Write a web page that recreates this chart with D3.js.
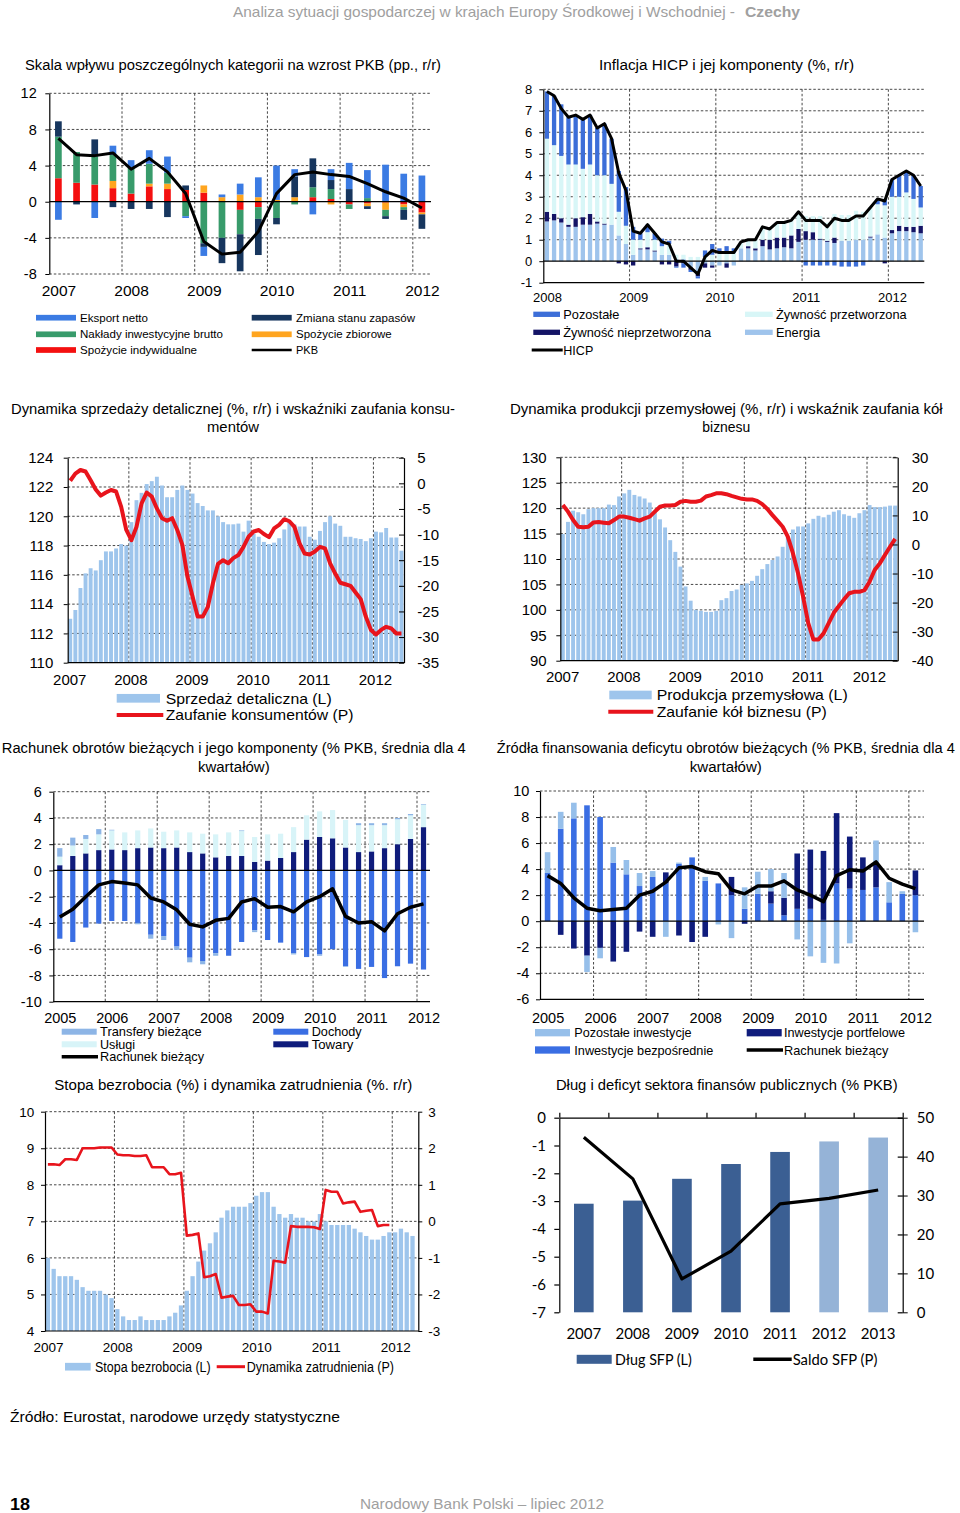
<!DOCTYPE html>
<html><head><meta charset="utf-8">
<script src="https://cdn.jsdelivr.net/npm/d3@7"></script>
<style>body{margin:0;background:#fff;}svg{display:block;}</style>
</head><body>
<script>
// ================= DATA =================
// Panel 1: GDP growth contributions (quarterly 2007Q1-2012Q1)
const gdpYears = ["2007","2008","2009","2010","2011","2012"];
const gdpIndiv   = [2.6,2.1,1.9,1.5,0.9,1.7,1.4,1.3,1.0,0,-0.9,-0.6,0,0,0.5,0.3,-0.3,-0.2,-0.1,-0.3,-1.2];
const gdpZbior   = [0,0,0,0.8,0,0.3,0.6,0,0.8,0.5,0.8,0.5,0.2,0.5,0,-0.3,0,-0.3,-0.8,-0.3,-0.2];
const gdpInwest  = [4.6,3.4,3.1,2.9,2.9,2.2,1.2,-1.6,-4.6,-4.0,-2.7,-1.3,-1.8,-0.3,1.1,1.1,-0.5,0.4,-0.7,-0.3,0];
const gdpZapasy  = [1.7,-0.3,1.9,-0.6,-0.8,-0.8,-1.7,0.5,-0.4,-2.8,-4.1,-4.0,-0.7,2.3,3.2,1.0,1.4,-0.3,-0.3,-1.1,-1.6];
const gdpEksport = [-2.0,0,-1.8,1.0,0.8,1.5,1.8,-0.2,-1.0,0.3,1.2,2.2,3.8,0.8,-1.4,1.2,2.9,3.1,4.1,3.1,2.9];
const gdpPKB     = [7.0,5.2,5.1,5.4,3.6,4.8,3.3,0.9,-4.4,-5.8,-5.6,-3.3,0.9,3.0,3.3,3.0,2.8,2.0,1.1,0.4,-0.7];
const gdpNames   = ["Eksport netto","Nakłady inwestycyjne brutto","Spożycie indywidualne","Zmiana stanu zapasów","Spożycie zbiorowe","PKB"];

// Panel 2: HICP and components (monthly 2008-01 .. 2012-05)
const hicpYears = ["2008","2009","2010","2011","2012"];
const hicpEnergia = [1.85,1.9,1.8,1.6,1.6,1.7,1.7,1.75,1.7,1.7,1.2,0.8,
  0.3,0.55,0.55,0.45,0.3,0.3,0.1,0.1,-0.3,-0.5,-0.1,-0.2,
  -0.2,-0.1,-0.2,0.6,0.6,0.5,0.7,0.55,0.6,0.65,0.6,0.9,
  1.0,1.0,1.0,0.9,0.85,0.95,0.95,1.0,1.0,1.1,1.25,1.1,
  1.3,1.4,1.4,1.35,1.3];
const hicpNieprz = [0.45,0.3,0.2,0.1,0.4,0.35,0.5,0.1,0.05,0,-0.1,-0.15,
  -0.2,0.05,0.1,0.05,-0.15,-0.15,-0.25,-0.1,-0.1,-0.2,-0.2,-0.1,
  0,-0.2,0,0,0.1,0.1,0.3,0.45,0.5,0.45,0.6,0.6,
  0.4,0.35,0.05,0.05,0.25,0,0,0,0,0.05,0,-0.1,
  0.15,0.25,0.2,0.25,0.35];
const hicpPrzetw = [3.4,3.2,2.9,2.8,2.5,2.25,2.3,2.15,2.25,1.9,1.1,0.85,
  0.7,0.4,0.7,0.5,0.4,0.5,0.2,0.2,0.2,0.2,0.2,0.3,
  0.35,0.4,0.4,0.3,0.3,0.4,0.6,0.5,0.7,0.7,0.7,0.8,
  0.7,0.75,1.05,0.85,1.1,1.2,1.2,1.35,1.3,1.35,1.4,1.5,
  1.55,1.35,1.6,1.3,0.85];
const hicpPozost = [2.2,2.3,2.4,2.2,2.3,2.3,2.3,2.2,2.4,2.1,1.9,1.8,
  0.6,0.3,0.35,0.3,0.35,0.15,-0.05,-0.2,-0.1,-0.1,0.3,0.5,
  0.25,0.3,0.2,0,0,0,0,0,0,0,0,0,
  -0.2,-0.2,-0.2,-0.2,-0.2,-0.25,-0.25,-0.25,-0.2,0,0.25,0.3,
  0.8,1.0,1.0,1.1,1.0];
const hicpTotal = [7.9,7.7,7.1,6.7,6.8,6.6,6.8,6.2,6.4,5.7,4.1,3.3,
  1.4,1.3,1.7,1.3,0.9,0.8,0.0,0.0,-0.3,-0.6,0.2,0.5,
  0.4,0.4,0.4,0.9,1.0,1.0,1.6,1.5,1.8,1.8,1.9,2.3,
  1.9,1.9,1.9,1.6,2.0,1.9,1.9,2.1,2.1,2.5,2.9,2.8,
  3.8,4.0,4.2,4.0,3.5];
const hicpNames = ["Pozostałe","Żywność przetworzona","Żywność nieprzetworzona","Energia","HICP"];

// Panel 3: retail sales (L) and consumer confidence (P), monthly 2007-01 .. 2012-06
const mYears = ["2007","2008","2009","2010","2011","2012"];
const retail = [113.0,113.6,115.1,116.1,116.45,116.3,117.0,117.6,117.6,117.8,118.1,118.0,
  119.6,121.1,121.6,122.2,122.4,122.7,122.1,121.3,121.3,121.8,122.1,121.8,
  121.55,120.9,120.7,120.4,120.4,120.0,119.6,119.45,119.45,119.5,118.95,119.7,
  118.8,118.6,118.25,118.1,118.2,118.5,119.1,119.6,119.45,119.3,119.3,118.6,
  118.4,119.0,119.6,120.0,119.5,119.35,118.6,118.6,118.5,118.45,118.3,118.5,
  118.95,118.9,119.2,118.55,118.55,117.65];
const consConf = [0.5,1.9,2.6,2.3,0.6,-1.2,-2.4,-1.8,-1.3,-1.6,-4.6,-9.1,
  -11.1,-8.5,-3.9,-1.8,-2.6,-4.9,-6.8,-7.3,-6.8,-9.1,-12.0,-18.2,
  -22.1,-26.0,-26.0,-24.1,-19.5,-15.7,-15.0,-15.6,-14.6,-14.0,-12.4,-10.4,
  -9.4,-9.1,-9.9,-10.5,-8.8,-8.1,-7.0,-7.4,-8.5,-11.7,-13.7,-13.9,
  -13.3,-12.4,-12.7,-15.6,-17.6,-19.4,-19.7,-20.0,-21.3,-22.6,-26.0,-28.6,
  -29.5,-28.6,-28.0,-28.3,-29.3,-29.3];
const retailNames = ["Sprzedaż detaliczna (L)","Zaufanie konsumentów (P)"];

// Panel 4: industrial production (L) and business confidence (P)
const indProd = [114.9,117.3,119.5,119.2,118.8,119.8,120.0,120.0,120.0,120.7,120.6,122.3,
  122.9,123.6,122.6,122.3,121.9,121.1,119.5,117.8,116.2,113.7,111.4,108.5,
  104.6,101.8,100.0,99.8,99.6,99.6,99.8,101.9,102.3,103.7,104.0,104.9,
  105.2,105.7,106.7,108.0,109.0,109.8,110.5,112.4,114.4,115.8,116.4,116.4,
  117.0,117.9,118.5,118.2,118.7,119.3,119.6,118.8,118.5,118.1,119.0,119.6,
  120.6,120.2,120.2,120.3,120.5,120.5];
const busConf = [13.6,11.3,8.4,6.1,5.9,6.1,7.6,7.7,7.5,7.3,8.4,9.6,
  9.6,9.2,8.7,8.2,9.0,9.6,11.3,13.0,13.4,13.4,13.6,14.7,
  15.0,14.7,14.7,15.1,16.5,17.0,17.6,17.6,17.3,16.7,16.2,15.7,
  15.5,15.5,15.0,13.9,12.2,10.1,8.1,6.1,2.7,-3.0,-9.9,-18.0,
  -27.1,-32.7,-32.7,-30.6,-27.1,-23.5,-21.2,-18.9,-16.8,-16.3,-16.3,-15.7,
  -12.8,-8.8,-6.5,-3.6,-0.8,1.9];
const indNames = ["Produkcja przemysłowa (L)","Zaufanie kół biznesu (P)"];

// Panel 5: current account components (quarterly 2005Q1-2012Q1)
const qYears = ["2005","2006","2007","2008","2009","2010","2011","2012"];
const caTowary = [0.4,1.1,1.3,1.55,1.6,1.55,1.7,1.75,1.7,1.75,1.4,1.3,1.0,1.1,1.1,0.65,0.75,0.95,1.4,2.35,2.55,2.45,1.75,1.4,1.45,1.7,2.0,2.4,3.3];
const caUslugi = [0.65,0.8,1.1,1.2,1.45,1.35,1.35,1.45,1.25,1.3,1.5,1.5,1.75,1.8,1.9,1.9,2.0,1.85,1.9,1.85,1.95,2.15,2.1,2.05,2.0,1.75,1.9,1.8,1.7];
const caDochody = [-5.2,-5.45,-4.35,-4.05,-3.85,-3.85,-4.0,-4.9,-5.0,-5.8,-6.65,-6.9,-6.3,-6.5,-5.45,-4.55,-5.3,-5.5,-6.3,-6.6,-6.4,-6.0,-7.3,-7.5,-7.35,-8.2,-7.3,-7.1,-7.55];
const caTransfery = [0.65,0.6,0.3,0.4,0.05,0,-0.1,-0.3,-0.3,-0.25,-0.35,-0.25,-0.2,0,0.05,-0.15,0,0,-0.1,0,-0.1,0,-0.05,0.15,0.15,0.15,0.1,0.1,0.05];
const caTotal = [-3.55,-2.95,-2.0,-1.1,-0.85,-0.95,-1.1,-2.1,-2.4,-3.0,-4.1,-4.3,-3.8,-3.65,-2.4,-2.15,-2.8,-2.75,-3.15,-2.4,-2.0,-1.4,-3.5,-4.0,-3.9,-4.6,-3.3,-2.8,-2.55];
const caNames = ["Transfery bieżące","Usługi","Rachunek bieżący","Dochody","Towary"];

// Panel 6: financing of the current account deficit
const finBezp = [3.7,7.1,7.9,8.9,8.0,4.5,3.6,2.7,3.4,2.9,4.4,4.9,3.1,2.9,2.0,0.95,2.1,1.35,0.45,0.95,0.95,0.1,2.9,2.5,2.4,2.6,1.45,2.1,2.0];
const finPortf = [0,-1.05,-2.1,-2.65,-2.05,-3.1,-2.35,-0.8,-1.2,0.85,-1.1,-1.6,-1.2,0,1.4,-0.2,0,0.95,1.35,4.25,4.55,5.3,5.4,4.0,2.5,1.8,0,0,1.9];
const finPozost = [1.6,1.3,1.2,-1.25,-0.8,1.2,1.1,1.0,0.45,-1.2,0.1,0,0.3,-0.25,-1.3,1.65,1.7,1.7,1.9,-1.4,-2.7,-3.2,-3.25,-1.7,0,1.8,1.55,0.2,-0.85];
const finCA = [3.5,2.9,1.8,1.0,0.8,0.9,1.0,2.0,2.3,3.0,4.1,4.2,3.8,3.65,2.4,2.1,2.7,2.7,3.1,2.4,2.0,1.5,3.5,3.95,3.85,4.55,3.3,2.85,2.5];
const finNames = ["Pozostałe inwestycje","Inwestycje bezpośrednie","Inwestycje portfelowe","Rachunek bieżący"];

// Panel 7: unemployment rate (L) and employment growth (P), monthly from 2007-01
const unemp = [6.0,5.7,5.5,5.5,5.5,5.4,5.2,5.1,5.1,5.1,5.0,4.9,
  4.6,4.4,4.3,4.3,4.4,4.3,4.3,4.3,4.3,4.4,4.5,4.7,
  5.1,5.5,5.9,6.2,6.4,6.7,7.1,7.3,7.4,7.4,7.4,7.5,
  7.7,7.8,7.8,7.4,7.2,7.1,7.2,7.1,7.1,7.0,7.0,7.2,
  7.0,6.9,6.9,6.9,6.9,6.8,6.7,6.6,6.5,6.5,6.6,6.7,
  6.7,6.8,6.7,6.6];
const emplGrowth = [1.56,1.56,1.54,1.7,1.7,1.68,2.0,2.0,2.0,2.02,2.02,2.02,
  1.83,1.81,1.81,1.79,1.79,1.81,1.48,1.48,1.48,1.29,1.29,1.33,
  -0.39,-0.37,-0.33,-1.53,-1.5,-1.44,-2.09,-2.06,-2.04,-2.29,-2.29,-2.27,
  -2.47,-2.47,-2.52,-1.08,-1.1,-1.13,-0.13,-0.15,-0.15,-0.15,-0.16,-0.21,
  0.86,0.81,0.81,0.49,0.52,0.54,0.26,0.29,0.31,-0.13,-0.1,-0.1];
const unempNames = ["Stopa bezrobocia (L)","Dynamika zatrudnienia (P)"];

// Panel 8: public debt and balance
const debtYears = ["2007","2008","2009","2010","2011","2012","2013"];
const debtVals  = [27.9,28.7,34.3,38.1,41.2,43.9,44.9];
const debtForecast = [false,false,false,false,false,true,true];
const balanceVals = [-0.7,-2.2,-5.8,-4.8,-3.1,-2.9,-2.6];
const debtNames = ["Dług SFP (L)","Saldo SFP (P)"];

// ================= DRAWING =================
const SANS = "'Liberation Sans', Arial, sans-serif";
const svg = d3.select("body").append("svg").attr("width",960).attr("height",1513);
svg.append("rect").attr("width",960).attr("height",1513).attr("fill","#fff");

function T(g, x, y, s, o = {}) {
  const t = g.append("text").attr("x", x).attr("y", y).attr("dy", "0.35em").text(s)
    .attr("font-family", o.family || SANS).attr("font-size", o.size || 13)
    .attr("fill", o.fill || "#000").attr("text-anchor", o.anchor || "start");
  if (o.weight) t.attr("font-weight", o.weight);
  if (o.len) t.attr("textLength", o.len).attr("lengthAdjust", "spacingAndGlyphs");
  return t;
}
function title(lines, cx, ys, lens) {
  lines.forEach((l, i) => T(svg, cx, ys[i], l, {anchor: "middle", size: 14, len: lens[i]}));
}
function hgrid(g, y, vals, l, r) {
  g.append("g").selectAll("line").data(vals).join("line")
    .attr("x1", l).attr("x2", r).attr("y1", d => y(d)).attr("y2", d => y(d))
    .attr("stroke", "#333").attr("stroke-width", 0.9).attr("stroke-dasharray", "2.5,2");
}
function vgrid(g, x, vals, t, b) {
  g.append("g").selectAll("line").data(vals).join("line")
    .attr("y1", t).attr("y2", b).attr("x1", d => x(d)).attr("x2", d => x(d))
    .attr("stroke", "#333").attr("stroke-width", 0.9).attr("stroke-dasharray", "2.5,2");
}
function hline(g, yy, l, r, w) {
  g.append("line").attr("x1", l).attr("x2", r).attr("y1", yy).attr("y2", yy)
    .attr("stroke", "#000").attr("stroke-width", w || 1.2);
}
function styleAxis(ax, size, family) {
  ax.select(".domain").attr("stroke", "#000").attr("stroke-width", 1.2);
  ax.selectAll(".tick line").attr("stroke", "#000");
  ax.selectAll(".tick text").attr("font-size", size).attr("font-family", family || SANS).attr("fill", "#000");
}
function axisL(g, y, ticks, x, size, pad, family, tsize) {
  const ax = g.append("g").attr("transform", `translate(${x},0)`)
    .call(d3.axisLeft(y).tickValues(ticks).tickSize(tsize || 4).tickSizeOuter(0).tickPadding(pad).tickFormat(d => String(d)));
  styleAxis(ax, size, family); return ax;
}
function axisR(g, y, ticks, x, size, pad, tsize, family) {
  const ax = g.append("g").attr("transform", `translate(${x},0)`)
    .call(d3.axisRight(y).tickValues(ticks).tickSize(tsize).tickSizeOuter(0).tickPadding(pad).tickFormat(d => String(d)));
  styleAxis(ax, size, family); return ax;
}
function yearAxis(g, x, pos, labels, yy, size, family) {
  const ax = g.append("g").attr("transform", `translate(0,${yy})`)
    .call(d3.axisBottom(x).tickValues(pos).tickFormat((d, i) => labels[i]).tickSize(0).tickPadding(0));
  ax.select(".domain").remove();
  ax.selectAll("text").attr("y", 0).attr("dy", "0.35em").attr("font-size", size)
    .attr("font-family", family || SANS).attr("fill", "#000");
}
function stacked(g, rows, keys, colors, x, w, y) {
  const series = d3.stack().keys(keys).offset(d3.stackOffsetDiverging)(rows);
  g.append("g").selectAll("g").data(series).join("g").attr("fill", s => colors[s.key])
    .selectAll("rect").data(s => s).join("rect")
    .attr("x", d => x(d.data.i + 0.5) - w / 2).attr("width", w)
    .attr("y", d => y(Math.max(d[0], d[1]))).attr("height", d => Math.abs(y(d[0]) - y(d[1])));
}
function bars(g, vals, x, w, y, base, color) {
  g.append("g").selectAll("rect").data(vals).join("rect")
    .attr("x", (d, i) => x(i + 0.5) - w / 2).attr("width", w)
    .attr("y", d => y(d)).attr("height", d => y(base) - y(d)).attr("fill", color);
}
function linePath(g, vals, x, y, color, width) {
  g.append("path").datum(vals).attr("fill", "none").attr("stroke", color).attr("stroke-width", width)
    .attr("stroke-linejoin", "round").attr("stroke-linecap", "butt")
    .attr("d", d3.line().x((d, i) => x(i + 0.5)).y(d => y(d)));
}
function legRect(g, x1, x2, yy, h, color, label, tx, size, len, family) {
  g.append("rect").attr("x", x1).attr("y", yy - h / 2).attr("width", x2 - x1).attr("height", h).attr("fill", color);
  T(g, tx, yy, label, {size, len, family});
}
function legLine(g, x1, x2, yy, color, w, label, tx, size, len, family) {
  g.append("line").attr("x1", x1).attr("x2", x2).attr("y1", yy).attr("y2", yy).attr("stroke", color).attr("stroke-width", w);
  T(g, tx, yy, label, {size, len, family});
}

// ---- Header / footer ----
T(svg, 233, 12, "Analiza sytuacji gospodarczej w krajach Europy Środkowej i Wschodniej -", {size: 14.5, fill: "#a0a0a0", len: 502});
T(svg, 745, 12, "Czechy", {size: 14.5, fill: "#a0a0a0", weight: "bold", len: 55});
T(svg, 10, 1417, "Źródło: Eurostat, narodowe urzędy statystyczne", {size: 15, len: 330});
T(svg, 10, 1504, "18", {size: 16, weight: "bold", len: 20});
T(svg, 360, 1504, "Narodowy Bank Polski – lipiec 2012", {size: 15, fill: "#a0a0a0", len: 244});

// ---- Titles ----
title(["Skala wpływu poszczególnych kategorii na wzrost PKB (pp., r/r)"], 233, [65], [416]);
title(["Inflacja HICP i jej komponenty (%, r/r)"], 726.5, [65], [255]);
title(["Dynamika sprzedaży detalicznej (%, r/r) i wskaźniki zaufania konsu-", "mentów"], 233, [409.3, 426.7], [444, 52]);
title(["Dynamika produkcji przemysłowej (%, r/r) i wskaźnik zaufania kół", "biznesu"], 726.3, [409.3, 426.7], [432.7, 48]);
title(["Rachunek obrotów bieżących i jego komponenty (% PKB, średnia dla 4", "kwartałów)"], 233.8, [748.3, 766.7], [464, 71.7]);
title(["Źródła finansowania deficytu obrotów bieżących (% PKB, średnia dla 4", "kwartałów)"], 725.8, [748.3, 766.7], [458, 72]);
title(["Stopa bezrobocia (%) i dynamika zatrudnienia (%. r/r)"], 233.3, [1085], [358]);
title(["Dług i deficyt sektora finansów publicznych (% PKB)"], 726.8, [1085], [341.7]);

// ---- Panel 1: GDP ----
{
  const g = svg.append("g");
  const L = 49.3, R = 431, Tp = 93.3, B = 274, n = gdpPKB.length;
  const x = d3.scaleLinear().domain([0, n]).range([L, R]);
  const y = d3.scaleLinear().domain([-8, 12]).range([B, Tp]);
  hgrid(g, y, [12, 8, 4, -4, -8], L, R);
  vgrid(g, x, gdpYears.slice(1).map((_, k) => 4 * (k + 1)), Tp, B);
  const rows = d3.range(n).map(i => ({i, indiv: gdpIndiv[i], zbior: gdpZbior[i], inwest: gdpInwest[i], zapasy: gdpZapasy[i], eksport: gdpEksport[i]}));
  const col = {eksport: "#3b7be3", inwest: "#389b6b", indiv: "#f41010", zapasy: "#17365e", zbior: "#ffa51f"};
  stacked(g, rows, ["indiv", "zbior", "inwest", "zapasy", "eksport"], col, x, 6.7, y);
  hline(g, y(0), L, R, 1.3);
  linePath(g, gdpPKB, x, y, "#000", 3);
  axisL(g, y, [-8, -4, 0, 4, 8, 12], L, 14.5, 8.6);
  yearAxis(g, x, gdpYears.map((_, k) => 4 * k + 0.5), gdpYears, 290.5, 15.5);
  const fs = 11.5;
  legRect(g, 36, 76, 317.7, 5.7, col.eksport, gdpNames[0], 80, fs, 68);
  legRect(g, 36, 76, 334.3, 5.7, col.inwest, gdpNames[1], 80, fs, 143);
  legRect(g, 36, 76, 350, 5.7, col.indiv, gdpNames[2], 80, fs, 117);
  legRect(g, 251.7, 291.7, 317.7, 5.7, col.zapasy, gdpNames[3], 296, fs, 119);
  legRect(g, 251.7, 291.7, 334.3, 5.7, col.zbior, gdpNames[4], 296, fs, 95.7);
  legLine(g, 251.7, 291.7, 350, "#000", 2.5, gdpNames[5], 296, fs, 22);
}

// ---- Panel 2: HICP ----
{
  const g = svg.append("g");
  const L = 543.3, R = 924.3, Tp = 89.3, B = 282.7, n = hicpTotal.length;
  const x = d3.scaleLinear().domain([0, n]).range([L, R]);
  const y = d3.scaleLinear().domain([-1, 8]).range([B, Tp]);
  hgrid(g, y, [1, 2, 3, 4, 5, 6, 7, 8], L, R);
  vgrid(g, x, [12, 24, 36, 48], Tp, B);
  const rows = d3.range(n).map(i => ({i, en: hicpEnergia[i], np: hicpNieprz[i], pr: hicpPrzetw[i], po: hicpPozost[i]}));
  const col = {po: "#3c6ed8", pr: "#d8f6f7", np: "#141466", en: "#9fc4ec"};
  stacked(g, rows, ["en", "np", "pr", "po"], col, x, 4.3, y);
  hline(g, y(0), L, R, 1.2);
  hline(g, y(-1), L, R, 1.2);
  linePath(g, hicpTotal, x, y, "#000", 3);
  axisL(g, y, d3.range(-1, 9), L, 13, 7);
  yearAxis(g, x, hicpYears.map((_, k) => 12 * k + 0.5), hicpYears, 297, 13);
  const fs = 13;
  legRect(g, 533.3, 560, 314.3, 5.3, col.po, hicpNames[0], 563.3, fs, 56);
  legRect(g, 745, 772.7, 314.3, 5.3, col.pr, hicpNames[1], 776, fs, 130.7);
  legRect(g, 533.3, 560, 332.3, 5.3, col.np, hicpNames[2], 563.3, fs, 147.7);
  legRect(g, 745, 772.7, 332.3, 5.3, col.en, hicpNames[3], 776, fs, 44);
  legLine(g, 531.7, 562.7, 350, "#000", 3, hicpNames[4], 563.3, fs, 30);
}

// ---- Panel 3: retail ----
{
  const g = svg.append("g");
  const L = 67.7, R = 404, Tp = 457.7, B = 662.7, n = retail.length;
  const x = d3.scaleLinear().domain([0, n]).range([L, R]);
  const y = d3.scaleLinear().domain([110, 124]).range([B, Tp]);
  const y2 = d3.scaleLinear().domain([-35, 5]).range([B, Tp]);
  hgrid(g, y, [124, 122, 120, 118, 116, 114, 112], L, R);
  vgrid(g, x, [12, 24, 36, 48, 60], Tp, B);
  bars(g, retail, x, 3.9, y, 110, "#9ec5ec");
  hline(g, B, L, R, 1.2);
  linePath(g, consConf, x, y2, "#e8141c", 4);
  axisL(g, y, d3.range(110, 125, 2), L, 15, 10.4);
  axisR(g, y2, d3.range(-35, 6, 5), R, 15, 13.3, -5);
  yearAxis(g, x, mYears.map((_, k) => 12 * k + 0.3), mYears, 679.3, 15);
  legRect(g, 116.7, 160, 698.3, 8.7, "#9ec5ec", retailNames[0], 165.7, 15, 166);
  legLine(g, 116.7, 163.3, 715, "#e8141c", 4, retailNames[1], 165.7, 15, 187.7);
}

// ---- Panel 4: industry ----
{
  const g = svg.append("g");
  const L = 560.3, R = 897.7, Tp = 457.3, B = 660.7, n = indProd.length;
  const x = d3.scaleLinear().domain([0, n]).range([L, R]);
  const y = d3.scaleLinear().domain([90, 130]).range([B, Tp]);
  const y2 = d3.scaleLinear().domain([-40, 30]).range([B, Tp]);
  hgrid(g, y, [130, 125, 120, 115, 110, 105, 100, 95], L, R);
  vgrid(g, x, [12, 24, 36, 48, 60], Tp, B);
  bars(g, indProd, x, 3.9, y, 90, "#9ec5ec");
  hline(g, B, L, R, 1.2);
  linePath(g, busConf, x, y2, "#e8141c", 4);
  axisL(g, y, d3.range(90, 131, 5), L, 15, 9.6);
  axisR(g, y2, d3.range(-40, 31, 10), R, 15, 14, -5);
  yearAxis(g, x, mYears.map((_, k) => 12 * k + 0.35), mYears, 676.7, 15);
  legRect(g, 609.3, 651.7, 695, 8.7, "#9ec5ec", indNames[0], 656.7, 15, 191);
  legLine(g, 608.3, 653.3, 711.7, "#e8141c", 4, indNames[1], 656.7, 15, 170);
}

// ---- Panel 5: current account ----
{
  const g = svg.append("g");
  const L = 53.3, R = 430, Tp = 791.7, B = 1001.7, n = caTotal.length;
  const x = d3.scaleLinear().domain([0, n]).range([L, R]);
  const y = d3.scaleLinear().domain([-10, 6]).range([B, Tp]);
  hgrid(g, y, [6, 4, 2, -2, -4, -6, -8], L, R);
  vgrid(g, x, [4, 8, 12, 16, 20, 24, 28], Tp, B);
  const rows = d3.range(n).map(i => ({i, tw: caTowary[i], us: caUslugi[i], dc: caDochody[i], tr: caTransfery[i]}));
  const col = {tr: "#8db5e6", us: "#d8f4f8", dc: "#3a6ee3", tw: "#0f1c7c"};
  stacked(g, rows, ["tw", "us", "dc", "tr"], col, x, 5.2, y);
  hline(g, y(0), L, R, 1.2);
  hline(g, B, L, R, 1.2);
  linePath(g, caTotal, x, y, "#000", 3.5);
  axisL(g, y, d3.range(-10, 7, 2), L, 14.5, 7.6);
  yearAxis(g, x, qYears.map((_, k) => 4 * k + 0.5), qYears, 1017.7, 14.5);
  const fs = 13;
  legRect(g, 61.7, 96.7, 1031.7, 6, col.tr, caNames[0], 100, fs, 101.7);
  legRect(g, 61.7, 96.7, 1044.3, 6, col.us, caNames[1], 100, fs, 35);
  legLine(g, 61.7, 98, 1056.7, "#000", 3.5, caNames[2], 100, fs, 104);
  legRect(g, 273.3, 308.3, 1031.7, 6, col.dc, caNames[3], 311.7, fs, 50);
  legRect(g, 273.3, 308.3, 1044.3, 6, col.tw, caNames[4], 311.7, fs, 41.7);
}

// ---- Panel 6: financing ----
{
  const g = svg.append("g");
  const L = 541, R = 922, Tp = 791, B = 999.3, n = finCA.length;
  const x = d3.scaleLinear().domain([0, n]).range([L, R]);
  const y = d3.scaleLinear().domain([-6, 10]).range([B, Tp]);
  hgrid(g, y, [10, 8, 6, 4, 2, -2, -4], 540, R + 2);
  vgrid(g, x, [4, 8, 12, 16, 20, 24, 28], Tp, B);
  const rows = d3.range(n).map(i => ({i, bz: finBezp[i], pf: finPortf[i], pz: finPozost[i]}));
  const col = {pz: "#96bfea", bz: "#3a6ee3", pf: "#0f1c7c"};
  stacked(g, rows, ["bz", "pf", "pz"], col, x, 5.6, y);
  hline(g, y(0), 540, R + 2, 1.2);
  hline(g, B, 540, R + 2, 1.2);
  linePath(g, finCA, x, y, "#000", 3.5);
  axisL(g, y, d3.range(-6, 11, 2), 540, 14.5, 6.7);
  yearAxis(g, x, qYears.map((_, k) => 4 * k + 0.5), qYears, 1018, 14.5);
  const fs = 13;
  legRect(g, 535, 570, 1032.7, 7.3, col.pz, finNames[0], 574.3, fs, 117.3);
  legRect(g, 535, 570, 1050, 7.3, col.bz, finNames[1], 574.3, fs, 139);
  legRect(g, 746.7, 781.7, 1032.7, 7.3, col.pf, finNames[2], 784, fs, 121);
  legLine(g, 746.7, 783, 1050, "#000", 3.5, finNames[3], 784, fs, 104.3);
}

// ---- Panel 7: unemployment ----
{
  const g = svg.append("g");
  const L = 45, R = 418.3, Tp = 1111.7, B = 1331;
  const x = d3.scaleLinear().domain([0, 64.5]).range([L, R]);
  const y = d3.scaleLinear().domain([4, 10]).range([B, Tp]);
  const y2 = d3.scaleLinear().domain([-3, 3]).range([B, Tp]);
  hgrid(g, y, [10, 9, 8, 7, 6, 5], L, R);
  vgrid(g, x, [12, 24, 36, 48, 60], Tp, B);
  bars(g, unemp, x, 4.3, y, 4, "#9ec5ec");
  hline(g, B, L, R, 1.2);
  linePath(g, emplGrowth, x, y2, "#e8141c", 2.6);
  axisL(g, y, d3.range(4, 11), L, 13.5, 6.7);
  axisR(g, y2, d3.range(-3, 4), R, 13.5, 6, 4);
  yearAxis(g, x, mYears.map((_, k) => 12 * k + 0.5), mYears, 1347, 13.5);
  legRect(g, 65, 90.7, 1366.7, 7.7, "#9ec5ec", unempNames[0], 95, 14, 115.7);
  legLine(g, 216.7, 245, 1366.7, "#e8141c", 3, unempNames[1], 246.7, 14, 147.3);
}

// ---- Panel 8: debt ----
{
  const g = svg.append("g");
  const L = 559.3, R = 902.7, Tp = 1117.7, B = 1312.3;
  const LATO = "Lato, 'Open Sans', sans-serif";
  const xb = d3.scaleBand().domain(debtYears).range([L, R]).paddingInner(0.6).paddingOuter(0.3);
  const xl = d3.scaleLinear().domain([0, debtYears.length]).range([L, R]);
  const yl = d3.scaleLinear().domain([-7, 0]).range([B, Tp]);
  const yr = d3.scaleLinear().domain([0, 50]).range([B, Tp]);
  g.append("g").selectAll("rect").data(debtVals).join("rect")
    .attr("x", (d, i) => xb(debtYears[i])).attr("width", xb.bandwidth())
    .attr("y", d => yr(d)).attr("height", d => yr(0) - yr(d))
    .attr("fill", (d, i) => debtForecast[i] ? "#95b3d7" : "#3b5f93");
  g.append("path").datum(balanceVals).attr("fill", "none").attr("stroke", "#000").attr("stroke-width", 3.2)
    .attr("stroke-linejoin", "round")
    .attr("d", d3.line().x((d, i) => xb(debtYears[i]) + xb.bandwidth() / 2).y(d => yl(d)));
  const top = g.append("g").attr("transform", `translate(0,${Tp})`)
    .call(d3.axisTop(xl).tickValues(d3.range(debtYears.length + 1)).tickSize(5).tickSizeOuter(0).tickFormat(""));
  top.select(".domain").attr("stroke", "#000").attr("stroke-width", 1.3);
  top.selectAll(".tick line").attr("stroke", "#000").attr("stroke-width", 1.2);
  const al = axisL(g, yl, d3.range(-7, 1), L, 15, 8.3, LATO, 5);
  al.selectAll(".tick line").attr("stroke-width", 1.2);
  const ar = axisR(g, yr, d3.range(0, 51, 10), R, 15, 9, 5, LATO);
  ar.selectAll(".tick").append("line").attr("x1", 0).attr("x2", -5).attr("stroke", "#000").attr("stroke-width", 1.2);
  const yax = g.append("g").attr("transform", `translate(0,1333.3)`)
    .call(d3.axisBottom(xb).tickSize(0).tickPadding(0));
  yax.select(".domain").remove();
  yax.selectAll("text").attr("y", 0).attr("dy", "0.35em").attr("font-size", 15).attr("font-family", LATO).attr("fill", "#000");
  legRect(g, 576.7, 611.7, 1359.3, 9, "#3b5f93", debtNames[0], 615, 15, 76.7, LATO);
  legLine(g, 753.3, 791.7, 1359.3, "#000", 3.5, debtNames[1], 792.7, 15, 84.7, LATO);
}
</script>
</body></html>
